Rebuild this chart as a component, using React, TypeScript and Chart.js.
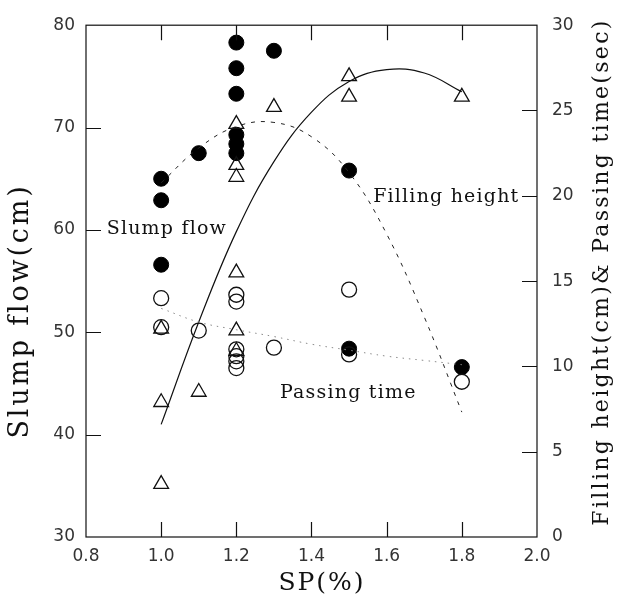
import React, { useEffect, useRef } from "react";
import { Chart, registerables } from "chart.js";

Chart.register(...registerables);

// ---- data ----
const xTickValues = [0.8, 1.0, 1.2, 1.4, 1.6, 1.8, 2.0];

// Slump flow (cm) – filled circles, left axis
const slumpSP = [1.0, 1.0, 1.0, 1.1, 1.2, 1.2, 1.2, 1.2, 1.2, 1.2, 1.3, 1.5, 1.5, 1.8];
const slumpFlow = [65.0, 62.9, 56.6, 67.5, 78.3, 75.8, 73.3, 69.3, 68.4, 67.5, 77.5, 65.8, 48.4, 46.6];

// Passing time (sec) – open circles, right axis
const passSP = [1.0, 1.0, 1.1, 1.2, 1.2, 1.2, 1.2, 1.2, 1.2, 1.3, 1.5, 1.5, 1.8];
const passTime = [14.0, 12.3, 12.1, 14.2, 13.8, 11.0, 10.6, 10.3, 9.9, 11.1, 14.5, 10.7, 9.1];

// Filling height (cm) – open triangles, right axis
const fillSP = [1.0, 1.0, 1.0, 1.1, 1.2, 1.2, 1.2, 1.2, 1.2, 1.2, 1.3, 1.5, 1.5, 1.8];
const fillHeight = [12.2, 7.9, 3.1, 8.5, 24.2, 21.8, 21.1, 15.5, 12.1, 10.9, 25.2, 27.0, 25.8, 25.8];

// fitted curves
const curveSP = [1.0, 1.1, 1.2, 1.3, 1.4, 1.5, 1.6, 1.7, 1.8];
const slumpCurve = [64.6, 68.0, 70.1, 70.5, 69.1, 65.6, 59.6, 51.5, 42.2];
const fillCurve = [6.6, 12.6, 17.9, 22.0, 24.9, 26.7, 27.4, 27.2, 26.1];
const passCurve = [13.4, 12.6, 12.15, 11.75, 11.3, 10.95, 10.6, 10.35, 10.1];

const xInnerTicks = [1.0, 1.2, 1.4, 1.6, 1.8];
const leftInnerTicks = [40, 50, 60, 70];
const rightInnerTicks = [5, 10, 15, 20, 25];

const pts = (xs: number[], ys: number[]) => xs.map((x, i) => ({ x, y: ys[i] }));

const SERIF = '"DejaVu Serif", serif';
const SANS = '"DejaVu Sans", sans-serif';

const decor = {
  id: "decor",
  afterDraw(chart: any) {
    const { ctx, chartArea: a, scales } = chart;
    ctx.save();
    ctx.strokeStyle = "#111";
    ctx.lineWidth = 1.2;
    ctx.strokeRect(a.left, a.top, a.right - a.left, a.bottom - a.top);
    const L = 15;
    ctx.beginPath();
    xInnerTicks.forEach((v) => {
      const px = Math.round(scales.x.getPixelForValue(v)) + 0.5;
      ctx.moveTo(px, a.bottom);
      ctx.lineTo(px, a.bottom - L);
      ctx.moveTo(px, a.top);
      ctx.lineTo(px, a.top + L);
    });
    leftInnerTicks.forEach((v) => {
      const py = Math.round(scales.y.getPixelForValue(v)) + 0.5;
      ctx.moveTo(a.left, py);
      ctx.lineTo(a.left + L, py);
    });
    rightInnerTicks.forEach((v) => {
      const py = Math.round(scales.y2.getPixelForValue(v)) + 0.5;
      ctx.moveTo(a.right, py);
      ctx.lineTo(a.right - L, py);
    });
    ctx.stroke();

    ctx.fillStyle = "#111";
    ctx.textBaseline = "middle";
    // annotations
    ctx.font = `19px ${SERIF}`;
    (ctx as any).letterSpacing = "1.2px";
    ctx.textAlign = "left";
    ctx.fillText("Slump flow", scales.x.getPixelForValue(0.855), scales.y.getPixelForValue(60.1));
    ctx.fillText("Filling height", scales.x.getPixelForValue(1.564), scales.y2.getPixelForValue(19.9));
    ctx.fillText("Passing time", scales.x.getPixelForValue(1.316), scales.y2.getPixelForValue(8.45));

    // axis titles
    ctx.textAlign = "center";
    ctx.font = `25px ${SERIF}`;
    (ctx as any).letterSpacing = "2px";
    ctx.fillText("SP(%)", 322, 583);

    ctx.save();
    ctx.translate(21, 311);
    ctx.rotate(-Math.PI / 2);
    ctx.font = `27px ${SERIF}`;
    (ctx as any).letterSpacing = "2.8px";
    ctx.fillText("Slump flow(cm)", 0, 0);
    ctx.restore();

    ctx.save();
    ctx.translate(602, 272);
    ctx.rotate(-Math.PI / 2);
    ctx.font = `22px ${SERIF}`;
    (ctx as any).letterSpacing = "2.3px";
    ctx.fillText("Filling height(cm)& Passing time(sec)", 0, 0);
    ctx.restore();

    ctx.restore();
  },
};

export default function App() {
  const ref = useRef<HTMLCanvasElement>(null);
  useEffect(() => {
    if (!ref.current) return;
    const chart = new Chart(ref.current, {
      type: "scatter",
      data: {
        datasets: [
          {
            label: "Passing time curve",
            data: pts(curveSP, passCurve),
            yAxisID: "y2",
            showLine: true,
            borderColor: "#8a8a8a",
            borderWidth: 1,
            borderDash: [1.5, 5],
            pointRadius: 0,
            tension: 0.4,
          } as any,
          {
            label: "Slump flow curve",
            data: pts(curveSP, slumpCurve),
            yAxisID: "y",
            showLine: true,
            borderColor: "#222",
            borderWidth: 1,
            borderDash: [4, 6],
            pointRadius: 0,
            tension: 0.4,
          } as any,
          {
            label: "Filling height curve",
            data: pts(curveSP, fillCurve),
            yAxisID: "y2",
            showLine: true,
            borderColor: "#111",
            borderWidth: 1.2,
            pointRadius: 0,
            tension: 0.4,
          } as any,
          {
            label: "Passing time",
            data: pts(passSP, passTime),
            yAxisID: "y2",
            pointStyle: "circle",
            pointRadius: 7.5,
            backgroundColor: "rgba(0,0,0,0)",
            borderColor: "#111",
            borderWidth: 1.3,
          },
          {
            label: "Filling height",
            data: pts(fillSP, fillHeight),
            yAxisID: "y2",
            pointStyle: "triangle",
            pointRadius: 8.5,
            backgroundColor: "rgba(0,0,0,0)",
            borderColor: "#111",
            borderWidth: 1.3,
          },
          {
            label: "Slump flow",
            data: pts(slumpSP, slumpFlow),
            yAxisID: "y",
            pointStyle: "circle",
            pointRadius: 7.5,
            backgroundColor: "#000",
            borderColor: "#000",
            borderWidth: 1,
          },
        ],
      },
      options: {
        animation: false,
        responsive: false,
        devicePixelRatio: 1,
        layout: { padding: { top: 15, left: 0, right: 0, bottom: 0 } },
        plugins: { legend: { display: false }, tooltip: { enabled: false }, title: { display: false } },
        scales: {
          x: {
            type: "linear",
            min: 0.8,
            max: 2.0,
            afterBuildTicks: (s: any) => {
              s.ticks = xTickValues.map((v) => ({ value: v }));
            },
            ticks: {
              callback: (v: any) => Number(v).toFixed(1),
              font: { family: SANS, size: 17 },
              color: "#333",
              padding: 9,
              maxRotation: 0,
            },
            grid: { display: false, drawTicks: false },
            border: { display: false },
            afterFit: (s: any) => {
              s.height = 67;
            },
          },
          y: {
            type: "linear",
            position: "left",
            min: 30,
            max: 80,
            ticks: { stepSize: 10, font: { family: SANS, size: 17 }, color: "#333", padding: 11 },
            grid: { display: false, drawTicks: false },
            border: { display: false },
            afterFit: (s: any) => {
              s.width = 86;
            },
          },
          y2: {
            type: "linear",
            position: "right",
            min: 0,
            max: 30,
            ticks: { stepSize: 5, font: { family: SANS, size: 17 }, color: "#333", padding: 15 },
            grid: { display: false, drawTicks: false },
            border: { display: false },
            afterFit: (s: any) => {
              s.width = 90;
            },
          },
        },
      } as any,
      plugins: [decor],
    });
    return () => chart.destroy();
  }, []);
  return (
    <div style={{ position: "fixed", left: 0, top: 0, width: 627, height: 604, background: "#fff" }}>
      <canvas ref={ref} width={627} height={604} style={{ display: "block" }} />
    </div>
  );
}
